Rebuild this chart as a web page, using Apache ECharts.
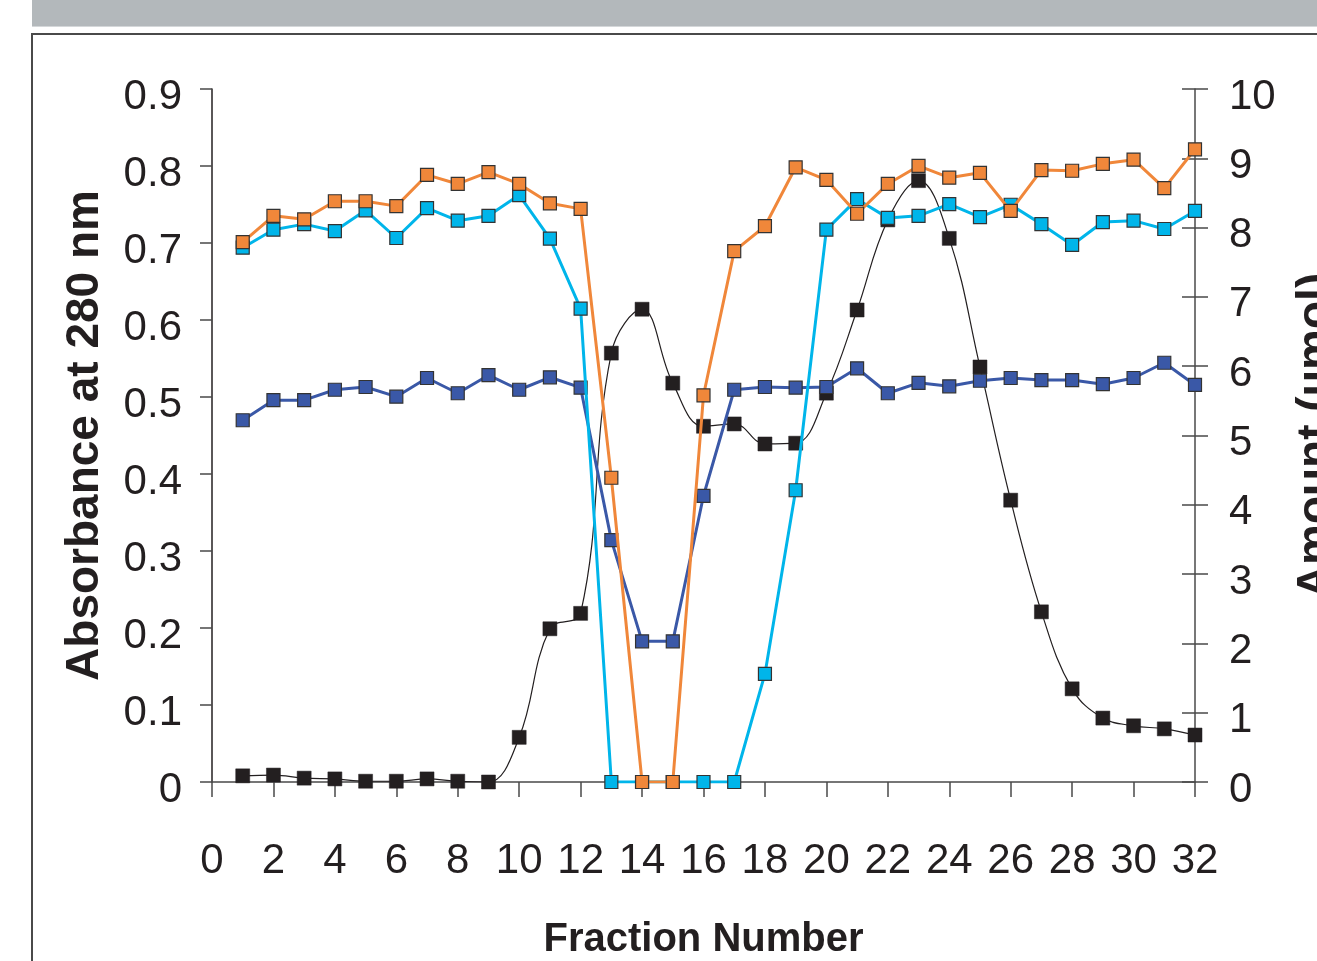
<!DOCTYPE html>
<html>
<head>
<meta charset="utf-8">
<script src="https://cdn.jsdelivr.net/npm/echarts@6/dist/echarts.min.js"></script>
<style>
  html, body { margin: 0; padding: 0; background: #ffffff; }
  #chart { width: 1317px; height: 961px; }
</style>
</head>
<body>
<div id="chart"></div>
<script>
// Fraction numbers
const fractions = [1,2,3,4,5,6,7,8,9,10,11,12,13,14,15,16,17,18,19,20,21,22,23,24,25,26,27,28,29,30,31,32];
// Absorbance at 280 nm (left axis)
const absorbance = [0.008,0.009,0.005,0.004,0.001,0.001,0.004,0.001,0.000,0.058,0.199,0.219,0.557,0.614,0.518,0.462,0.465,0.439,0.440,0.505,0.613,0.730,0.781,0.706,0.539,0.366,0.221,0.121,0.083,0.073,0.069,0.061];
// Amounts (µmol, right axis)
const orangeAmt = [7.79,8.17,8.12,8.38,8.38,8.31,8.76,8.63,8.80,8.63,8.35,8.27,4.39,0,0,5.58,7.66,8.02,8.87,8.69,8.20,8.63,8.89,8.72,8.79,8.24,8.83,8.82,8.92,8.98,8.57,9.13];
const cyanAmt   = [7.71,7.97,8.05,7.95,8.25,7.85,8.28,8.10,8.17,8.47,7.84,6.83,0,0,0,0,0,1.56,4.21,7.97,8.41,8.14,8.17,8.34,8.15,8.33,8.05,7.75,8.08,8.10,7.98,8.24];
const blueAmt   = [5.22,5.51,5.51,5.66,5.70,5.56,5.83,5.61,5.87,5.66,5.84,5.69,3.49,2.03,2.03,4.13,5.66,5.70,5.69,5.70,5.97,5.61,5.76,5.71,5.79,5.83,5.80,5.80,5.74,5.83,6.05,5.73];

const xTitle = 'Fraction Number';
const yLeftTitle = 'Absorbance at 280 nm';
const yRightTitle = 'Amount (µmol)';

const pairs = arr => fractions.map((f, i) => [f, arr[i]]);

const tickFont = "'Liberation Sans', Arial, Helvetica, sans-serif";
const titleFont = "'Liberation Sans', Arial, Helvetica, sans-serif";
const ink = '#231f20';
const axisGray = '#4a4a4a';

const chart = echarts.init(document.getElementById('chart'), null, { renderer: 'canvas' });

const lineSeries = (name, data, color, axis, opts) => Object.assign({
  name: name,
  type: 'line',
  yAxisIndex: axis,
  data: pairs(data),
  symbol: 'rect',
  symbolSize: 13,
  lineStyle: { color: color, width: 3 },
  itemStyle: { color: color, borderColor: '#333333', borderWidth: 1.2 },
  emphasis: { disabled: true },
  animation: false
}, opts || {});

// y tick labels sit slightly below their ticks in the reference
const shiftedRich = { v: { fontFamily: tickFont, fontSize: 42, color: ink, padding: [16, 0, 0, 0] } };

chart.setOption({
  backgroundColor: '#ffffff',
  animation: false,
  grid: { left: 212, right: 122, top: 89, bottom: 179, containLabel: false, outerBoundsMode: 'none' },
  xAxis: {
    type: 'value', min: 0, max: 32, interval: 2,
    name: xTitle, nameLocation: 'middle', nameGap: 138,
    nameTextStyle: { fontFamily: titleFont, fontWeight: 'bold', fontSize: 40, color: ink },
    axisLine: { show: true, onZero: false, lineStyle: { color: axisGray, width: 1.5 } },
    axisTick: { show: true, length: 15, lineStyle: { color: axisGray, width: 1.5 } },
    axisLabel: { fontFamily: tickFont, fontSize: 42, color: ink, margin: 58 },
    splitLine: { show: false }
  },
  yAxis: [
    {
      type: 'value', min: 0, max: 0.9, interval: 0.1, position: 'left',
      name: yLeftTitle, nameLocation: 'middle', nameGap: 104, nameRotate: 90,
      nameTextStyle: { fontFamily: titleFont, fontWeight: 'bold', fontSize: 46, color: ink },
      axisLine: { show: true, lineStyle: { color: ink, width: 1.5 } },
      axisTick: { show: true, length: 12, lineStyle: { color: axisGray, width: 1.5 } },
      axisLabel: { fontFamily: tickFont, fontSize: 42, color: ink, margin: 30,
        rich: shiftedRich,
        formatter: v => '{v|' + (v === 0 ? '0' : v.toFixed(1)) + '}' },
      splitLine: { show: false }
    },
    {
      type: 'value', min: 0, max: 10, interval: 1, position: 'right',
      name: yRightTitle, nameLocation: 'middle', nameGap: 98, nameRotate: 90,
      nameTextStyle: { fontFamily: titleFont, fontWeight: 'bold', fontSize: 46, color: ink },
      axisLine: { show: true, lineStyle: { color: axisGray, width: 1.5 } },
      axisTick: { show: true, length: 13, lineStyle: { color: axisGray, width: 1.5 } },
      axisLabel: { fontFamily: tickFont, fontSize: 42, color: ink, margin: 34,
        rich: shiftedRich,
        formatter: v => '{v|' + v + '}' },
      splitLine: { show: false }
    },
    {
      type: 'value', min: 0, max: 10, interval: 1, position: 'right', offset: 0,
      axisLine: { show: false },
      axisTick: { show: true, inside: true, length: 13, lineStyle: { color: axisGray, width: 1.5 } },
      axisLabel: { show: false },
      splitLine: { show: false }
    }
  ],
  series: [
    lineSeries('Absorbance', absorbance, ink, 0, {
      smooth: 0.4, symbolSize: 14,
      lineStyle: { color: ink, width: 1.2 },
      itemStyle: { color: ink, borderColor: ink, borderWidth: 0.5 },
      z: 2
    }),
    lineSeries('Blue', blueAmt, '#3a58a7', 1, { z: 3 }),
    lineSeries('Cyan', cyanAmt, '#00b5ea', 1, { z: 4 }),
    lineSeries('Orange', orangeAmt, '#f0873a', 1, { z: 5 })
  ],
  graphic: [
    { type: 'rect', shape: { x: 32, y: 0, width: 1290, height: 26 }, style: { fill: '#b3b8bb' }, silent: true },
    { type: 'rect', shape: { x: 32, y: 26, width: 1290, height: 1 }, style: { fill: '#d4d7d9' }, silent: true },
    { type: 'rect', shape: { x: 32, y: 33, width: 1290, height: 2 }, style: { fill: '#4a4a4a' }, silent: true },
    { type: 'rect', shape: { x: 31, y: 33, width: 2, height: 930 }, style: { fill: '#4a4a4a' }, silent: true }
  ]
});
</script>
</body>
</html>
